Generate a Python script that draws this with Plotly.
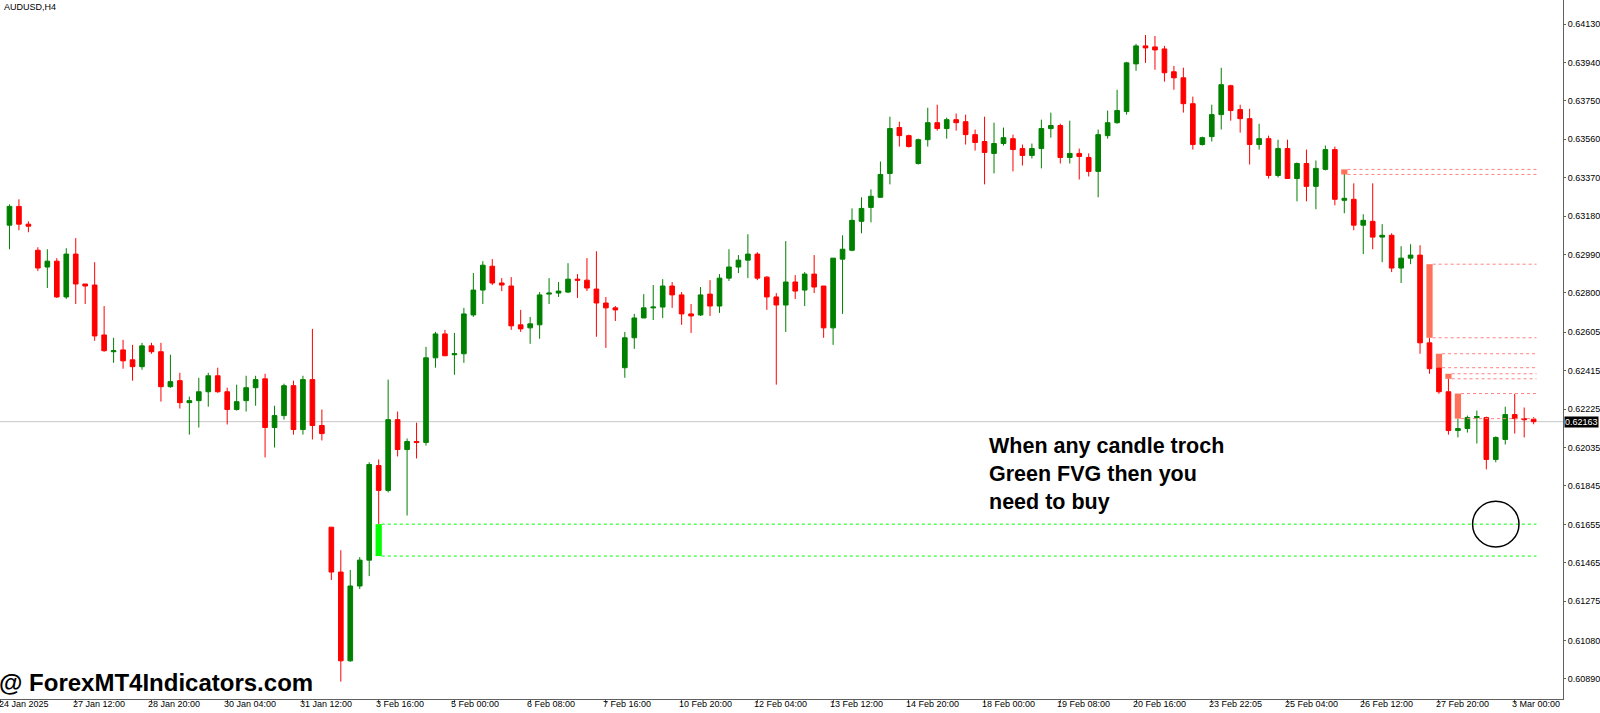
import plotly.graph_objects as go

opens = [0.63135,0.63228,0.63140,0.63011,0.62928,0.62957,0.62780,0.62992,0.62844,0.62839,
0.62592,0.62509,0.62518,0.62469,0.62435,0.62538,0.62509,0.62336,0.62366,0.62257,
0.62267,0.62311,0.62390,0.62311,0.62223,0.62267,0.62331,0.62375,0.62134,0.62193,
0.62341,0.62124,0.62371,0.62144,0.61641,0.61419,0.60980,0.61350,0.61478,0.61946,
0.61823,0.62173,0.62025,0.62065,0.62060,0.62479,0.62597,0.62494,0.62499,0.62691,
0.62814,0.62932,0.62849,0.62834,0.62642,0.62627,0.62642,0.62794,0.62799,0.62804,
0.62868,0.62863,0.62819,0.62750,0.62726,0.62430,0.62578,0.62676,0.62726,0.62730,
0.62834,0.62790,0.62696,0.62691,0.62794,0.62735,0.62873,0.62928,0.62962,0.62992,
0.62878,0.62780,0.62740,0.62854,0.62814,0.62893,0.62834,0.62627,0.62967,0.63011,
0.63154,0.63223,0.63273,0.63391,0.63618,0.63578,0.63440,0.63558,0.63642,0.63613,
0.63657,0.63647,0.63583,0.63549,0.63490,0.63539,0.63563,0.63514,0.63480,0.63514,
0.63613,0.63628,0.63470,0.63490,0.63470,0.63401,0.63578,0.63642,0.63697,0.63933,
0.64022,0.64017,0.64007,0.63894,0.63864,0.63736,0.63534,0.63573,0.63682,0.63825,
0.63707,0.63662,0.63534,0.63563,0.63381,0.63514,0.63366,0.63440,0.63327,0.63411,
0.63509,0.63258,0.63263,0.63135,0.63154,0.63076,0.63085,0.62923,0.62972,0.62987,
0.62553,0.62430,0.62311,0.62119,0.62129,0.62183,0.62183,0.61976,0.62075,0.62198,
0.62178,0.62175]
highs = [0.63238,0.63263,0.63154,0.63026,0.63016,0.62972,0.63021,0.63071,0.62844,0.62952,
0.62735,0.62578,0.62568,0.62543,0.62553,0.62553,0.62553,0.62494,0.62405,0.62287,
0.62380,0.62405,0.62430,0.62331,0.62346,0.62390,0.62390,0.62400,0.62242,0.62351,
0.62366,0.62390,0.62622,0.62223,0.61641,0.61527,0.61429,0.61493,0.61962,0.61976,
0.62371,0.62213,0.62080,0.62158,0.62533,0.62607,0.62617,0.62602,0.62726,0.62898,
0.62957,0.62967,0.62873,0.62878,0.62716,0.62681,0.62804,0.62873,0.62854,0.62947,
0.62893,0.62972,0.63006,0.62780,0.62735,0.62607,0.62696,0.62794,0.62839,0.62868,
0.62854,0.62804,0.62745,0.62829,0.62863,0.62893,0.63016,0.62987,0.63090,0.63001,
0.62883,0.62799,0.63056,0.62888,0.62903,0.62987,0.62834,0.62972,0.63085,0.63218,
0.63273,0.63312,0.63450,0.63672,0.63647,0.63583,0.63563,0.63716,0.63731,0.63667,
0.63687,0.63682,0.63608,0.63672,0.63642,0.63618,0.63583,0.63534,0.63539,0.63657,
0.63692,0.63637,0.63652,0.63514,0.63490,0.63608,0.63702,0.63805,0.63943,0.64032,
0.64076,0.64071,0.64022,0.63923,0.63914,0.63771,0.63573,0.63731,0.63914,0.63830,
0.63731,0.63711,0.63637,0.63578,0.63558,0.63558,0.63445,0.63509,0.63455,0.63529,
0.63524,0.63391,0.63342,0.63189,0.63342,0.63140,0.63095,0.63031,0.63041,0.63036,
0.62578,0.62430,0.62375,0.62178,0.62193,0.62218,0.62188,0.62090,0.62237,0.62301,
0.62233,0.62185]
lows = [0.63016,0.63110,0.63100,0.62908,0.62824,0.62775,0.62770,0.62745,0.62745,0.62563,
0.62509,0.62454,0.62425,0.62366,0.62420,0.62499,0.62262,0.62331,0.62228,0.62099,
0.62134,0.62237,0.62306,0.62149,0.62218,0.62213,0.62242,0.61986,0.62035,0.62173,
0.62099,0.62099,0.62075,0.62070,0.61380,0.60877,0.60975,0.61335,0.61399,0.61656,
0.61813,0.61991,0.61699,0.61981,0.62045,0.62430,0.62489,0.62395,0.62454,0.62681,
0.62745,0.62839,0.62809,0.62617,0.62607,0.62548,0.62573,0.62745,0.62780,0.62799,
0.62775,0.62809,0.62583,0.62528,0.62661,0.62380,0.62523,0.62676,0.62666,0.62676,
0.62726,0.62642,0.62602,0.62686,0.62686,0.62701,0.62859,0.62898,0.62873,0.62863,
0.62716,0.62346,0.62607,0.62770,0.62735,0.62799,0.62578,0.62543,0.62696,0.63006,
0.63095,0.63149,0.63273,0.63337,0.63524,0.63519,0.63435,0.63524,0.63603,0.63563,
0.63603,0.63534,0.63504,0.63337,0.63391,0.63529,0.63401,0.63430,0.63465,0.63416,
0.63568,0.63440,0.63440,0.63361,0.63376,0.63273,0.63563,0.63637,0.63682,0.63899,
0.63938,0.63904,0.63845,0.63805,0.63692,0.63509,0.63529,0.63549,0.63608,0.63652,
0.63593,0.63435,0.63509,0.63366,0.63371,0.63366,0.63253,0.63253,0.63214,0.63406,
0.63233,0.63194,0.63110,0.62992,0.63016,0.62952,0.62903,0.62849,0.62942,0.62499,
0.62400,0.62301,0.62099,0.62085,0.62109,0.62055,0.61927,0.61962,0.62050,0.62104,
0.62085,0.62150]
closes = [0.63228,0.63140,0.63130,0.62923,0.62957,0.62780,0.62992,0.62844,0.62834,0.62587,
0.62514,0.62514,0.62464,0.62435,0.62538,0.62509,0.62336,0.62361,0.62257,0.62267,
0.62311,0.62390,0.62311,0.62223,0.62262,0.62331,0.62371,0.62134,0.62193,0.62341,
0.62124,0.62371,0.62144,0.62104,0.61419,0.60980,0.61350,0.61478,0.61951,0.61823,
0.62173,0.62025,0.62065,0.62060,0.62479,0.62597,0.62489,0.62499,0.62696,0.62814,
0.62937,0.62849,0.62839,0.62637,0.62622,0.62647,0.62790,0.62799,0.62809,0.62868,
0.62863,0.62824,0.62750,0.62726,0.62716,0.62578,0.62676,0.62726,0.62730,0.62834,
0.62790,0.62696,0.62686,0.62790,0.62735,0.62873,0.62928,0.62962,0.62992,0.62873,
0.62780,0.62740,0.62854,0.62809,0.62893,0.62829,0.62627,0.62972,0.63016,0.63159,
0.63218,0.63278,0.63386,0.63613,0.63578,0.63524,0.63558,0.63642,0.63613,0.63657,
0.63642,0.63583,0.63544,0.63495,0.63539,0.63568,0.63509,0.63480,0.63514,0.63613,
0.63628,0.63470,0.63490,0.63475,0.63401,0.63583,0.63642,0.63702,0.63938,0.64022,
0.64012,0.64002,0.63889,0.63864,0.63736,0.63534,0.63568,0.63682,0.63830,0.63702,
0.63662,0.63534,0.63563,0.63381,0.63514,0.63366,0.63440,0.63327,0.63416,0.63509,
0.63263,0.63268,0.63135,0.63159,0.63076,0.63085,0.62923,0.62972,0.62987,0.62553,
0.62425,0.62311,0.62119,0.62129,0.62183,0.62188,0.61976,0.62085,0.62198,0.62178,
0.62173,0.62163]
bars = list(range(len(opens)))

# Fair value gaps: bar index, lower, upper
bull_fvg_bar = [39]
bull_fvg_low = [0.61498]
bull_fvg_high = [0.61656]
bear_fvg_bar = [141, 150, 151, 152, 153]
bear_fvg_low = [0.63386, 0.62578, 0.62430, 0.62375, 0.62178]
bear_fvg_high = [0.63411, 0.62942, 0.62499, 0.62400, 0.62302]

current_price = 0.62163
price_ticks = [0.64130,0.63940,0.63750,0.63560,0.63370,0.63180,0.62990,0.62800,0.62605,
               0.62415,0.62225,0.62035,0.61845,0.61655,0.61465,0.61275,0.61080,0.60890]
time_tick_bars = [-1,7,15,23,31,39,47,55,63,71,79,87,95,103,111,119,127,135,143,151,159]
time_tick_labels = ['24 Jan 2025','27 Jan 12:00','28 Jan 20:00','30 Jan 04:00','31 Jan 12:00',
    '3 Feb 16:00','5 Feb 00:00','6 Feb 08:00','7 Feb 16:00','10 Feb 20:00','12 Feb 04:00',
    '13 Feb 12:00','14 Feb 20:00','18 Feb 00:00','19 Feb 08:00','20 Feb 16:00','23 Feb 22:05',
    '25 Feb 04:00','26 Feb 12:00','27 Feb 20:00','3 Mar 00:00']

GREEN = '#008000'
RED = '#FF0000'
BEAR_FVG = '#FF6347'
BULL_FVG = '#00FF00'
FONT = 'Liberation Sans'

fig = go.Figure()
fig.add_trace(go.Candlestick(
    x=bars, open=opens, high=highs, low=lows, close=closes,
    increasing=dict(line=dict(color=GREEN, width=1), fillcolor=GREEN),
    decreasing=dict(line=dict(color=RED, width=1), fillcolor=RED),
    whiskerwidth=0, showlegend=False, hoverinfo='skip'))

last_bar = bars[-1]
shapes = []
for b, lo, hi in zip(bull_fvg_bar, bull_fvg_low, bull_fvg_high):
    shapes.append(dict(type='rect', x0=b-0.33, x1=b+0.33, y0=lo, y1=hi,
                       fillcolor=BULL_FVG, line=dict(width=0), layer='above'))
    for yv in (lo, hi):
        shapes.append(dict(type='line', x0=b+0.33, x1=last_bar+0.3, y0=yv, y1=yv,
                           line=dict(color=BULL_FVG, width=1, dash='dot')))
for b, lo, hi in zip(bear_fvg_bar, bear_fvg_low, bear_fvg_high):
    shapes.append(dict(type='rect', x0=b-0.33, x1=b+0.33, y0=lo, y1=hi,
                       fillcolor=BEAR_FVG, line=dict(width=0), layer='above', opacity=0.9))
    for yv in (lo, hi):
        shapes.append(dict(type='line', x0=b+0.33, x1=last_bar+0.3, y0=yv, y1=yv,
                           line=dict(color='#FF8080', width=1, dash='dot')))
shapes.append(dict(type='line', xref='paper', x0=0, x1=1, y0=current_price, y1=current_price,
                   line=dict(color='#C8C8C8', width=1), layer='below'))
shapes.append(dict(type='circle', x0=157-2.45, x1=157+2.45,
                   y0=bull_fvg_high[0]-0.00113, y1=bull_fvg_high[0]+0.00113,
                   line=dict(color='black', width=1.5)))

annotations = []
for b, t in zip(time_tick_bars, time_tick_labels):
    annotations.append(dict(x=b, y=0, xref='x', yref='paper', yanchor='top', xanchor='left',
                            text=t, showarrow=False, xshift=-4 if b >= 0 else -2, yshift=1, borderpad=0,
                            font=dict(family=FONT, size=9, color='black')))
annotations.append(dict(x=1, y=current_price, xref='paper', yref='y', xanchor='left',
                        text=f'{current_price:.5f}', showarrow=False, bgcolor='black',
                        font=dict(family=FONT, size=9, color='white'), borderpad=0, xshift=1))
annotations.append(dict(x=0.001, y=1, xref='paper', yref='paper', xanchor='left', yanchor='top',
                        text='AUDUSD,H4', showarrow=False,
                        font=dict(family=FONT, size=9, color='black')))
annotations.append(dict(x=103.3, y=0.61902, xref='x', yref='y', xanchor='left', yanchor='middle',
                        align='left', showarrow=False,
                        text='<b>When any candle troch<br>Green FVG then you<br>need to buy</b>',
                        font=dict(family=FONT, size=21.5, color='black')))
annotations.append(dict(x=0, y=0, xref='paper', yref='paper', xanchor='left', yanchor='bottom',
                        showarrow=False, yshift=1, xshift=-3,
                        text='<b>@ ForexMT4Indicators.com</b>',
                        font=dict(family=FONT, size=24, color='black')))

fig.update_layout(
    width=1600, height=713, margin=dict(l=0, r=37, t=0, b=14),
    paper_bgcolor='white', plot_bgcolor='white',
    shapes=shapes, annotations=annotations,
    xaxis=dict(range=[-1.0, 164.1], rangeslider=dict(visible=False), showgrid=False,
               zeroline=False, tickvals=time_tick_bars, ticktext=['']*len(time_tick_bars),
               ticks='outside', ticklen=3, tickcolor='#606060',
               showline=True, linecolor='#606060', linewidth=1),
    yaxis=dict(range=[0.60791, 0.64249], side='right', showgrid=False, zeroline=False,
               tickvals=price_ticks, ticktext=[f'{v:.5f}' for v in price_ticks],
               ticks='outside', ticklen=2, tickcolor='#606060',
               showline=True, linecolor='#606060', linewidth=1,
               tickfont=dict(family=FONT, size=9, color='black')),
)
fig.write_html('out.html', config={'displayModeBar': False},
               post_script="document.body.style.margin='0';document.body.style.overflow='hidden';")
